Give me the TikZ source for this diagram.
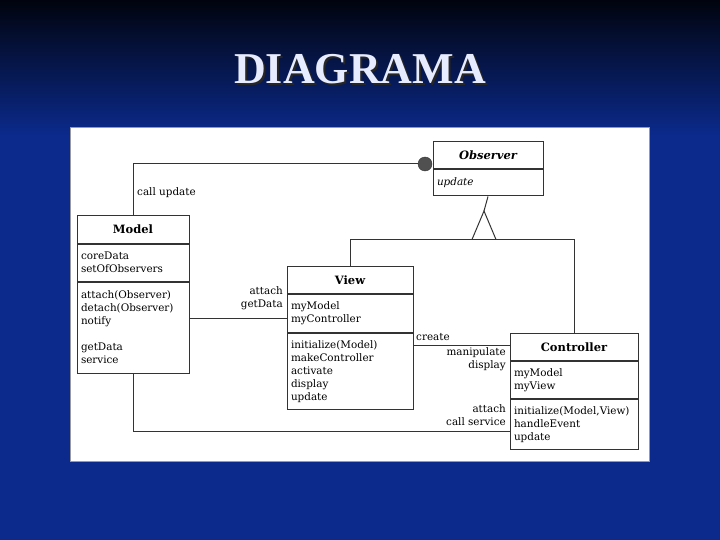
\documentclass[tikz,border=0pt]{standalone}
\usepackage{fontspec}
\setmainfont{DejaVu Serif}
\newfontfamily\slidefont{Liberation Serif}
\usetikzlibrary{positioning,calc}
\definecolor{slidetop}{HTML}{01040E}
\definecolor{slideblue}{HTML}{0B2A8C}
\definecolor{ink}{HTML}{333333}
\definecolor{ballgray}{HTML}{505050}
\definecolor{titlewhite}{HTML}{E8ECFF}
\definecolor{panelrim}{HTML}{9A9A9A}

\begin{document}
\begin{tikzpicture}[
  x=1pt,y=-1pt,
  classname/.style={draw=ink,line width=1pt,fill=white,minimum height=27pt,
                    inner sep=0pt,font=\bfseries\fontsize{11.5}{13}\selectfont},
  compart/.style={draw=ink,line width=1pt,fill=white,align=left,
                  inner xsep=4pt,inner ysep=2pt,font=\fontsize{10.4}{13}\selectfont},
  assoc/.style={draw=ink,line width=1pt},
  tag/.style={font=\fontsize{10.4}{13}\selectfont,inner sep=1pt}
]
\useasboundingbox (0,0) rectangle (720,540);
% slide background
\shade[top color=slidetop,bottom color=slideblue] (0,0) rectangle (720,136);
\fill[slideblue] (0,135) rectangle (720,540);
\node[font=\slidefont\bfseries\fontsize{44}{44}\selectfont,text=black!85] (titleshadow) at (362,71) {DIAGRAMA};
\node[font=\slidefont\bfseries\fontsize{44}{44}\selectfont,text=titlewhite] (title) at (360,69) {DIAGRAMA};
\fill[white,draw=panelrim] (70,127) rectangle (649,461);

% classes
\node[classname,minimum width=112pt] (model) at (133,229.5) {Model};
\node[compart,text width=104pt,minimum height=37pt,below=0pt of model] (modelA) {coreData\\setOfObservers};
\node[compart,text width=104pt,minimum height=91pt,below=0pt of modelA] (modelM)
  {attach(Observer)\\detach(Observer)\\notify\\[13pt]getData\\service};

\node[classname,minimum width=126pt] (view) at (350,280) {View};
\node[compart,text width=118pt,minimum height=38pt,below=0pt of view] (viewA) {myModel\\myController};
\node[compart,text width=118pt,minimum height=76pt,below=0pt of viewA] (viewM)
  {initialize(Model)\\makeController\\activate\\display\\update};

\node[classname,minimum width=128pt] (ctrl) at (574,347) {Controller};
\node[compart,text width=120pt,minimum height=37pt,below=0pt of ctrl] (ctrlA) {myModel\\myView};
\node[compart,text width=120pt,minimum height=50pt,below=0pt of ctrlA] (ctrlM)
  {initialize(Model,View)\\handleEvent\\update};

\node[classname,minimum width=110pt,font=\bfseries\itshape\fontsize{11.5}{13}\selectfont] (obs) at (488,155.5) {Observer};
\node[compart,text width=102pt,minimum height=26pt,below=0pt of obs,font=\itshape\fontsize{10.4}{13}\selectfont] (obsA) {update};

% observer link
\node[circle,fill=ballgray,draw=ink,minimum size=14pt,inner sep=0pt] (ball) at (425,164) {};
\draw[assoc] (ball) -| (model.north);
\node[tag,anchor=west] (lblcall) at (136,193) {call update};

% generalization
\coordinate (hub) at (484,239.5);
\coordinate (apex) at (484,211);
\draw[assoc] (obsA.south) -- (apex);
\draw[assoc] ([xshift=-12pt]hub) -- (apex) -- ([xshift=12pt]hub);
\draw[assoc] (view.north) |- (hub);
\draw[assoc] (hub) -| (ctrl.north);

% associations
\coordinate (mv) at ([yshift=-5pt]viewA.west);
\draw[assoc] (mv) -- (mv -| modelM.east);
\node[tag,anchor=east,align=right] (lblattach) at (284,298.5) {attach\\getData};

\coordinate (vc) at ([yshift=2pt]ctrl.west);
\draw[assoc] (vc) -- (vc -| viewM.east);
\node[tag,anchor=west] (lblcreate) at (415,337) {create};
\node[tag,anchor=east,align=right] (lblmanip) at (507,359) {manipulate\\display};

\coordinate (mc) at ([yshift=-7pt]ctrlM.west);
\draw[assoc] (modelM.south) |- (mc);
\node[tag,anchor=east,align=right] (lblservice) at (507,415) {attach\\call service};
\end{tikzpicture}
\end{document}
